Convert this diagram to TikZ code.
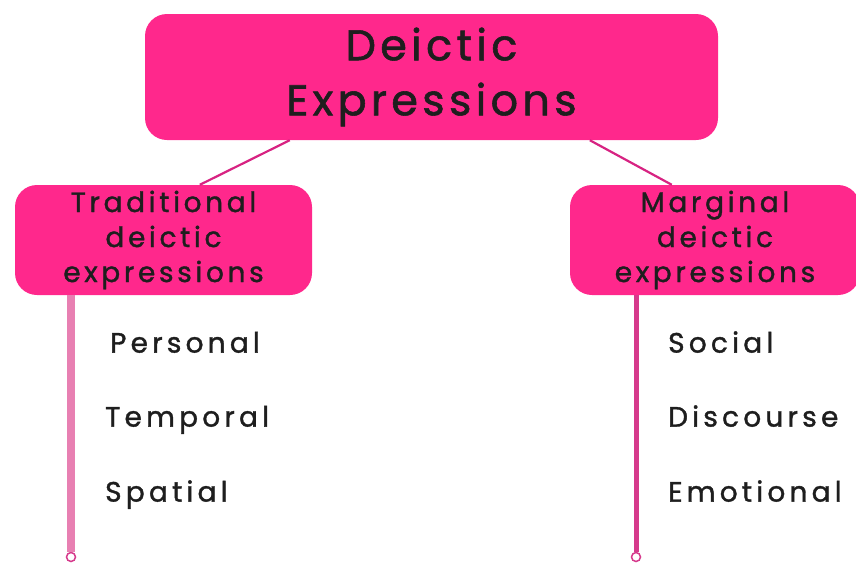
\documentclass[tikz,border=0pt]{standalone}
\usepackage{fontspec}
\setmainfont{Poppins}[LetterSpace=13,FakeBold=1.3]
\newfontfamily\titlefont{Poppins}[LetterSpace=10,FakeBold=1.3]
\newfontfamily\itemfont{Poppins}[LetterSpace=15,FakeBold=1.3]
\usetikzlibrary{calc}
\definecolor{boxpink}{RGB}{255,40,140}
\definecolor{linkpink}{RGB}{215,35,130}
\definecolor{lineL}{RGB}{232,128,178}
\definecolor{lineR}{RGB}{214,58,140}
\definecolor{txt}{RGB}{30,30,30}
\begin{document}
\begin{tikzpicture}[x=1pt,y=-1pt,
  box/.style={fill=boxpink,draw=none,rounded corners=22pt,align=center,text=txt,inner sep=0pt},
  item/.style={anchor=west,text=txt,font=\itemfont\fontsize{28}{32}\selectfont,inner sep=0pt,text height=0.72em,text depth=0pt},
  link/.style={draw=linkpink,line width=2.2pt},
  endc/.style={circle,draw=lineR,fill=white,line width=1.5pt,minimum size=9pt,inner sep=0pt}]
\useasboundingbox (0,0) rectangle (856,563);
\node[box,minimum width=573pt,minimum height=126pt,font=\titlefont\fontsize{43}{55}\selectfont] (top) at (431.5,77) {\raisebox{-2pt}{Deictic}\\\raisebox{-2pt}{Expressions}};
\node[box,minimum width=297pt,minimum height=110pt,font=\fontsize{28}{35}\selectfont] (left) at (163.5,240) {Traditional\\deictic\\expressions};
\node[box,minimum width=290pt,minimum height=110pt,font=\fontsize{28}{35}\selectfont] (right) at (715,240) {Marginal\\deictic\\expressions};
\draw[link] ($(top.south west)+(145,0)$) -- ($(left.north west)+(185,0)$);
\draw[link] ($(top.south west)+(445,0)$) -- ($(right.north west)+(102,0)$);
\node[endc] (cl) at (71,557) {};
\node[endc] (cr) at (636,557) {};
\draw[draw=lineL,line width=8pt] (left.south -| cl) -- (cl.north);
\draw[draw=lineR,line width=5pt] (right.south -| cr) -- (cr.north);
\node[item] (p1) at (110,349) {Personal};
\node[item] (p2) at (105,423) {Temporal};
\node[item] (p3) at (105,498) {Spatial};
\node[item] (m1) at (668,349) {Social};
\node[item] (m2) at (668,423) {Discourse};
\node[item] (m3) at (668,498) {Emotional};
\end{tikzpicture}
\end{document}
